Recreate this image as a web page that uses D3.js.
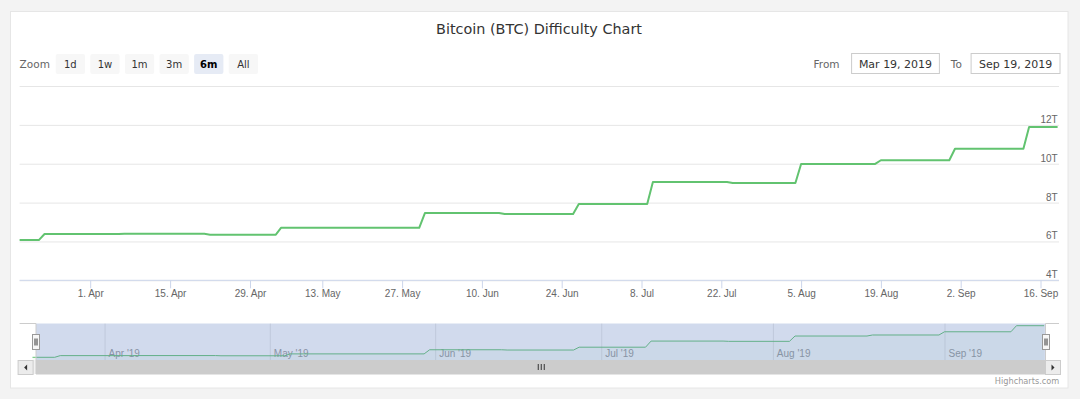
<!DOCTYPE html>
<html>
<head>
<meta charset="utf-8">
<script src="https://cdn.jsdelivr.net/npm/d3@7"></script>
<style>
  body { margin: 0; background: #f3f3f3; }
  svg { display: block; font-family: "DejaVu Sans", "Lucida Grande", sans-serif; }
</style>
</head>
<body>
<div id="chart"></div>
<script>
// difficulty in T, one sample at each end of a level
const dates = [
  "2019-03-19", "2019-03-23", "2019-03-24", "2019-04-06", "2019-04-07",
  "2019-04-21", "2019-04-22", "2019-05-04", "2019-05-05", "2019-05-30",
  "2019-05-31", "2019-06-13", "2019-06-14", "2019-06-26", "2019-06-27",
  "2019-07-09", "2019-07-10", "2019-07-23", "2019-07-24", "2019-08-04",
  "2019-08-05", "2019-08-18", "2019-08-19", "2019-08-31", "2019-09-01",
  "2019-09-13", "2019-09-14", "2019-09-19"
];
const difficulty = [
  6.07, 6.07, 6.38, 6.38, 6.39,
  6.39, 6.35, 6.35, 6.70, 6.70,
  7.46, 7.46, 7.41, 7.41, 7.93,
  7.93, 9.06, 9.06, 9.01, 9.01,
  9.99, 9.99, 10.18, 10.18, 10.77,
  10.77, 11.89, 11.89
];

const xTickDates = ["2019-04-01", "2019-04-15", "2019-04-29", "2019-05-13", "2019-05-27", "2019-06-10",
  "2019-06-24", "2019-07-08", "2019-07-22", "2019-08-05", "2019-08-19", "2019-09-02", "2019-09-16"];
const xTickLabels = ["1. Apr", "15. Apr", "29. Apr", "13. May", "27. May", "10. Jun",
  "24. Jun", "8. Jul", "22. Jul", "5. Aug", "19. Aug", "2. Sep", "16. Sep"];
const yTicks = [4, 6, 8, 10, 12, 14];
const yTickLabels = ["4T", "6T", "8T", "10T", "12T", ""];

const navTickDates = ["2019-04-01", "2019-05-01", "2019-06-01", "2019-07-01", "2019-08-01", "2019-09-01"];
const navTickLabels = ["Apr '19", "May '19", "Jun '19", "Jul '19", "Aug '19", "Sep '19"];

const zoomButtons = ["1d", "1w", "1m", "3m", "6m", "All"];
const selectedButton = "6m";
const fromLabel = "Mar 19, 2019";
const toLabel = "Sep 19, 2019";

// highcharts ordinal axis: one short stretch is squeezed
const ordinalBreaks = ["2019-03-19", "2019-04-29", "2019-05-13", "2019-09-19"];

const parse = d3.timeParse("%Y-%m-%d");
const data = dates.map((d, i) => ({ date: parse(d), value: difficulty[i] }));

const width = 1080, height = 399;
const plot = { left: 19.6, right: 1059, top: 86, bottom: 280.3 };
const nav = { top: 323.5, bottom: 360, maskLeft: 36, maskRight: 1045.5 };
const lineColor = "#62c370";

const svg = d3.select("#chart").append("svg")
  .attr("width", width)
  .attr("height", height);

svg.append("rect")
  .attr("x", 10.5).attr("y", 11.5)
  .attr("width", 1057.5).attr("height", 376.5)
  .attr("fill", "#fff")
  .attr("stroke", "#e6e6e6");

// title
svg.append("text")
  .attr("x", 539).attr("y", 33.7)
  .attr("text-anchor", "middle")
  .attr("font-size", 14.4)
  .attr("fill", "#333")
  .text("Bitcoin (BTC) Difficulty Chart");

// range selector
svg.append("text")
  .attr("x", 19.6).attr("y", 67.5)
  .attr("font-size", 10.5)
  .attr("fill", "#666")
  .text("Zoom");

const btn = svg.append("g").selectAll("g")
  .data(zoomButtons)
  .join("g")
  .attr("transform", (d, i) => `translate(${55.7 + i * 34.6},54)`);
btn.append("rect")
  .attr("width", 29.3).attr("height", 20).attr("rx", 2)
  .attr("fill", d => d === selectedButton ? "#e6ebf5" : "#f7f7f7");
btn.append("text")
  .attr("x", 14.65).attr("y", 13.5)
  .attr("text-anchor", "middle")
  .attr("font-size", 10)
  .attr("font-weight", d => d === selectedButton ? "bold" : "normal")
  .attr("fill", d => d === selectedButton ? "#000" : "#333")
  .text(d => d);

svg.append("text")
  .attr("x", 839.6).attr("y", 67.5)
  .attr("text-anchor", "end")
  .attr("font-size", 10.5)
  .attr("fill", "#666")
  .text("From");
svg.append("text")
  .attr("x", 950.8).attr("y", 67.5)
  .attr("font-size", 10.5)
  .attr("fill", "#666")
  .text("To");

const inputs = [{ x: 851.6, w: 87.8, t: fromLabel }, { x: 971.1, w: 88.9, t: toLabel }];
inputs.forEach(b => {
  svg.append("rect")
    .attr("x", b.x).attr("y", 53.5)
    .attr("width", b.w).attr("height", 20)
    .attr("fill", "#fff").attr("stroke", "#ccc");
  svg.append("text")
    .attr("x", b.x + b.w / 2).attr("y", 67.5)
    .attr("text-anchor", "middle")
    .attr("font-size", 11)
    .attr("fill", "#333")
    .text(b.t);
});

// scales
const x = d3.scaleTime()
  .domain(ordinalBreaks.map(parse))
  .range([16, 250, 322.3, 1057.6]);

const y = d3.scaleLinear()
  .domain([4, 14])
  .range([plot.bottom, plot.top]);

// y grid + labels on the right, inside the plot
const yAxis = svg.append("g")
  .attr("transform", `translate(${plot.right},0)`)
  .call(d3.axisRight(y)
    .tickValues(yTicks)
    .tickSize(-(plot.right - plot.left))
    .tickFormat((d, i) => yTickLabels[i]));
yAxis.select(".domain").remove();
yAxis.selectAll(".tick line").attr("stroke", "#e6e6e6");
yAxis.selectAll(".tick text")
  .attr("x", -1.4).attr("dy", -2.5)
  .attr("text-anchor", "end")
  .attr("font-size", 10)
  .attr("fill", "#666");

// x axis
const xAxis = svg.append("g")
  .attr("transform", `translate(0,${plot.bottom})`)
  .call(d3.axisBottom(x)
    .tickValues(xTickDates.map(parse))
    .tickFormat((d, i) => xTickLabels[i])
    .tickSize(8)
    .tickSizeOuter(0)
    .tickPadding(2));
xAxis.select(".domain").remove();
xAxis.selectAll(".tick line").attr("stroke", "#ccd6eb");
xAxis.selectAll(".tick text")
  .attr("font-size", 10)
  .attr("fill", "#666");
xAxis.append("line")
  .attr("x1", plot.left).attr("x2", plot.right)
  .attr("stroke", "#ccd6eb");

svg.append("clipPath").attr("id", "plotclip")
  .append("rect")
  .attr("x", plot.left).attr("y", plot.top - 5)
  .attr("width", plot.right - plot.left).attr("height", plot.bottom - plot.top + 5);

svg.append("path")
  .datum(data)
  .attr("clip-path", "url(#plotclip)")
  .attr("fill", "none")
  .attr("stroke", lineColor)
  .attr("stroke-width", 2)
  .attr("stroke-linejoin", "round")
  .attr("d", d3.line().x(d => x(d.date)).y(d => y(d.value)));

// navigator
const k = (nav.maskRight - nav.maskLeft) / (plot.right - plot.left);
const navX = d3.scaleTime()
  .domain(x.domain())
  .range(x.range().map(v => nav.maskLeft + (v - plot.left) * k));
const navY = d3.scaleLinear()
  .domain(d3.extent(difficulty))
  .range([nav.bottom - 2.7, nav.top + 2.2]);

const navAxis = svg.append("g")
  .attr("transform", `translate(0,${nav.bottom})`)
  .call(d3.axisBottom(navX)
    .tickValues(navTickDates.map(parse))
    .tickFormat((d, i) => navTickLabels[i])
    .tickSize(-(nav.bottom - nav.top))
    .tickSizeOuter(0));
navAxis.select(".domain").remove();
navAxis.selectAll(".tick line").attr("stroke", "#e6e6e6");
navAxis.selectAll(".tick text")
  .attr("x", 3.5).attr("y", -3.5).attr("dy", 0)
  .attr("text-anchor", "start")
  .attr("font-size", 10)
  .attr("fill", "#999");

svg.append("path")
  .datum(data)
  .attr("fill", lineColor)
  .attr("fill-opacity", 0.05)
  .attr("d", d3.area().x(d => navX(d.date)).y0(nav.bottom).y1(d => navY(d.value)));
svg.append("path")
  .datum(data)
  .attr("fill", "none")
  .attr("stroke", lineColor)
  .attr("stroke-width", 1)
  .attr("d", d3.line().x(d => navX(d.date)).y(d => navY(d.value)));

svg.append("rect")
  .attr("x", nav.maskLeft).attr("y", nav.top)
  .attr("width", nav.maskRight - nav.maskLeft).attr("height", nav.bottom - nav.top)
  .attr("fill", "rgba(102,133,194,0.3)");

// scrollbar
const sbTop = nav.bottom, sbH = 14;
svg.append("rect")
  .attr("x", plot.left).attr("y", sbTop)
  .attr("width", plot.right - plot.left).attr("height", sbH)
  .attr("fill", "#f2f2f2");
svg.append("rect")
  .attr("x", nav.maskLeft).attr("y", sbTop)
  .attr("width", nav.maskRight - nav.maskLeft).attr("height", sbH)
  .attr("fill", "#cccccc");
const grip = (nav.maskLeft + nav.maskRight) / 2;
[-3, 0, 3].forEach(o => {
  svg.append("line")
    .attr("x1", grip + o + 0.5).attr("x2", grip + o + 0.5)
    .attr("y1", sbTop + 4).attr("y2", sbTop + 10)
    .attr("stroke", "#333").attr("stroke-width", 1);
});
[plot.left - 2, plot.right - sbH].forEach((bx, i) => {
  svg.append("rect")
    .attr("x", bx + 0.5).attr("y", sbTop + 0.5)
    .attr("width", sbH + 1).attr("height", sbH)
    .attr("fill", "#ececec").attr("stroke", "#cccccc");
  const cx = bx + sbH / 2 + 1, cy = sbTop + sbH / 2 + 0.5;
  svg.append("path")
    .attr("d", i === 0
      ? `M${cx + 1.5},${cy - 3}L${cx - 1.5},${cy}L${cx + 1.5},${cy + 3}Z`
      : `M${cx - 1.5},${cy - 3}L${cx + 1.5},${cy}L${cx - 1.5},${cy + 3}Z`)
    .attr("fill", "#333");
});

// outline around the selected range
svg.append("path")
  .attr("fill", "none")
  .attr("stroke", "#cccccc")
  .attr("d", `M${plot.left},${nav.top}H${nav.maskLeft}V${sbTop + sbH}H${nav.maskRight}V${nav.top}H${plot.right}`);

// handles
[nav.maskLeft, nav.maskRight].forEach(hx => {
  const g = svg.append("g").attr("transform", `translate(${Math.round(hx) - 3.5},334.5)`);
  g.append("rect").attr("width", 7).attr("height", 15)
    .attr("fill", "#f7f7f7").attr("stroke", "#999");
  g.append("path").attr("d", "M2.5,4V11M4.5,4V11").attr("stroke", "#333");
});

svg.append("text")
  .attr("x", 1059.3).attr("y", 383.5)
  .attr("text-anchor", "end")
  .attr("font-size", 8.2)
  .attr("fill", "#999")
  .text("Highcharts.com");
</script>
</body>
</html>
